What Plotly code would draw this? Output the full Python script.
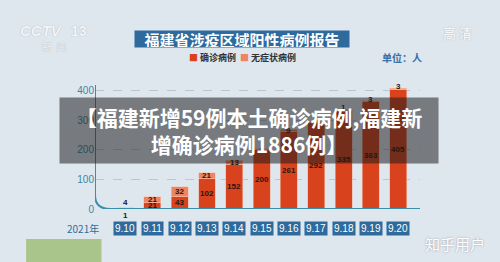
import plotly.graph_objects as go

dates = ["9.10", "9.11", "9.12", "9.13", "9.14", "9.15", "9.16", "9.17", "9.18", "9.19", "9.20"]
confirmed = [1, 21, 43, 102, 152, 200, 261, 292, 335, 363, 405]
asymptomatic = [4, 21, 32, 21, 13, 4, 9, 4, 1, 3, 3]
y_ticks = [0, 100, 200, 300, 400]
series_names = ["确诊病例", "无症状病例"]

C_CONF = "#d8431d"
C_ASYM = "#ef8463"
BLUE = "#2e6a9c"
TEAL = "#3b8ea8"
xs = list(range(len(dates)))

fig = go.Figure()
fig.add_trace(go.Bar(x=xs, y=confirmed, name=series_names[0], marker_color=C_CONF,
                     marker_line=dict(color="#f0b7a3", width=0.6), width=0.62, showlegend=False))
fig.add_trace(go.Bar(x=xs, y=asymptomatic, name=series_names[1], marker_color=C_ASYM,
                     marker_line=dict(color="#f6c4b2", width=0.6), width=0.62, showlegend=False))

ann = []
C = dict(xanchor="center", yanchor="middle", showarrow=False)
lab_font = dict(family="Liberation Sans, Arial", size=8, color="#2a160f")
for i, (c, a) in enumerate(zip(confirmed, asymptomatic)):
    tiny = (c + a) < 10
    ann.append(dict(x=i, y=c / 2, text=f"<b>{c}</b>", font=lab_font,
                    yshift=-7 if tiny else 0, **C))
    ann.append(dict(x=i, y=c + a / 2, text=f"<b>{a}</b>", font=lab_font,
                    yshift=6 if tiny else (2 if a < 4 else 0), **C))
    ann.append(dict(x=i, y=0, yshift=-19, text=dates[i], bgcolor=BLUE, borderpad=1,
                    font=dict(family="Liberation Sans, Arial", size=10, color="white"), **C))

# year label
ann.append(dict(xref="paper", yref="y", x=0.017, xanchor="right", yanchor="middle", y=0, yshift=-19,
                text="2021年", showarrow=False,
                font=dict(family="Noto Sans CJK SC", size=10, color="#2f6d9a")))
# title banner
ann.append(dict(xref="paper", yref="paper", x=0.452, y=1.304, text="<b>福建省涉疫区域阳性病例报告</b>",
                bgcolor=BLUE, width=214, height=16, borderpad=0,
                font=dict(family="Noto Sans CJK SC", size=15, color="white"), **C))
# legend
ann.append(dict(xref="paper", yref="paper", x=0.363, y=1.167,
                text=f"<span style='color:{C_CONF}'>■</span> <b>{series_names[0]}</b>",
                font=dict(family="Noto Sans CJK SC", size=9, color="#333"), **C))
ann.append(dict(xref="paper", yref="paper", x=0.533, y=1.167,
                text=f"<span style='color:{C_ASYM}'>■</span> <b>{series_names[1]}</b>",
                font=dict(family="Noto Sans CJK SC", size=9, color="#333"), **C))
ann.append(dict(xref="paper", yref="paper", x=0.945, y=1.167, text="<b>单位：人</b>",
                font=dict(family="Noto Sans CJK SC", size=10, color="#3a6ea8"), **C))
# logos / watermarks
ann.append(dict(xref="paper", yref="paper", x=-0.165, y=1.37, text="<b><i>CCTV</i></b>",
                font=dict(family="Liberation Sans", size=15, color="#f3f5f8",
                          shadow="0px 0px 1px #9aa4ae"), **C))
ann.append(dict(xref="paper", yref="paper", x=-0.05, y=1.37, text="<b>13</b>",
                font=dict(family="Liberation Sans", size=14, color="#f3f5f8",
                          shadow="0px 0px 1px #9aa4ae"), **C))
ann.append(dict(xref="paper", yref="paper", x=-0.125, y=1.25, text="新  闻",
                font=dict(family="Noto Sans CJK SC", size=10, color="#f3f5f8",
                          shadow="0px 0px 1px #9aa4ae"), **C))
ann.append(dict(xref="paper", yref="paper", x=1.114, y=1.357, text="<b>高 清</b>",
                font=dict(family="Noto Sans CJK SC", size=13, color="#f3f5f8",
                          shadow="0px 0px 1px #9aa4ae"), **C))
ann.append(dict(xref="paper", yref="paper", x=1.108, y=-0.262, text="知乎用户",
                font=dict(family="Noto Sans CJK SC", size=15, color="#ffffff",
                          shadow="0px 0px 2px #8a949e"), **C))
# overlay headline
ann.append(dict(xref="paper", yref="paper", x=0.474, y=0.604,
                text="<b>【福建新增59例本土确诊病例,福建新<br>增确诊病例1886例】</b>",
                width=376, height=63, bgcolor="rgba(25,25,25,0.52)",
                font=dict(family="Noto Sans CJK SC", size=21, color="white"), **C))

shapes = [
    dict(type="path", xref="x", yref="y",
         path="M -1.1,420 L -1.1,47 Q -1.1,0 -0.55,0 L 10.8,0",
         line=dict(color=TEAL, width=2), layer="above"),
    dict(type="rect", xref="paper", yref="paper", x0=-0.212, x1=0.02, y0=-0.41, y1=-0.23,
         fillcolor="#a9c58c", line_width=0, layer="below"),
]

fig.update_layout(
    width=500, height=262, barmode="stack",
    margin=dict(l=95, r=80, t=79, b=53),
    paper_bgcolor="#dee6ee", plot_bgcolor="rgba(0,0,0,0)",
    xaxis=dict(range=[-1.1, 10.8], showticklabels=False, showgrid=False, zeroline=False,
               showline=False, fixedrange=True),
    yaxis=dict(range=[0, 440], tickvals=y_ticks, ticks="", showline=False, zeroline=False,
               gridcolor="#b6c8d6", griddash="dash", gridwidth=1,
               tickfont=dict(family="Liberation Sans, Arial", size=10, color="#3b86a8")),
    annotations=ann, shapes=shapes, showlegend=False,
)
fig.write_html("out.html")
